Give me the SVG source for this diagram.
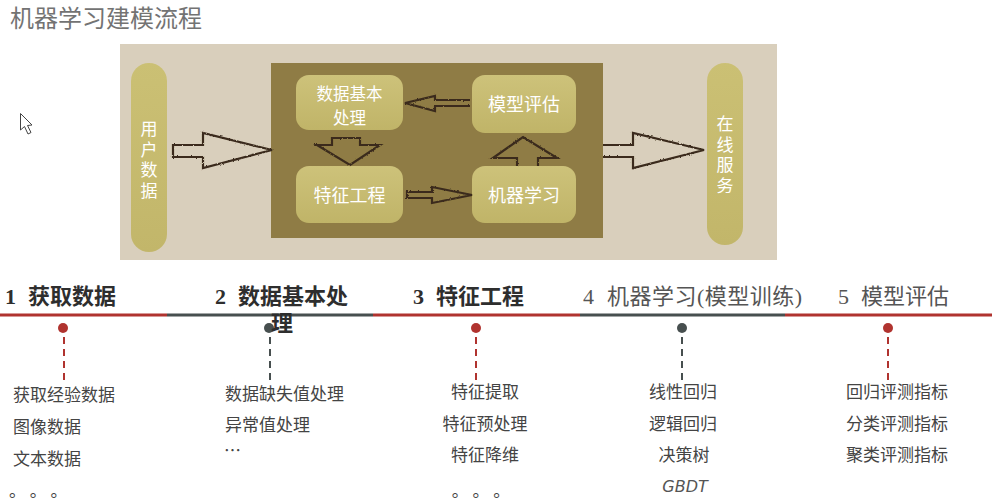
<svg xmlns="http://www.w3.org/2000/svg" width="1002" height="503" viewBox="0 0 1002 503">
<defs>
<filter id="rough" x="-10%" y="-10%" width="120%" height="120%">
<feTurbulence type="fractalNoise" baseFrequency="0.6" numOctaves="1" seed="3" result="n"/>
<feDisplacementMap in="SourceGraphic" in2="n" scale="2.5" xChannelSelector="R" yChannelSelector="G"/>
</filter>
<linearGradient id="boxg" x1="0" y1="0" x2="0" y2="1">
<stop offset="0" stop-color="#cdc27a"/>
<stop offset="1" stop-color="#c0b468"/>
</linearGradient>
<linearGradient id="pillg" x1="0" y1="0" x2="0" y2="1">
<stop offset="0" stop-color="#cbc074"/>
<stop offset="1" stop-color="#c2b66a"/>
</linearGradient>
</defs>
<style>
.title{font-family:"Noto Sans CJK SC",sans-serif;font-size:24px;fill:#737373}
.ntext{font-family:"Noto Sans CJK SC",sans-serif;font-size:18px;fill:#ffffff;text-anchor:middle}
.vtext{font-family:"Noto Sans CJK SC",sans-serif;font-size:17px;fill:#ffffff;writing-mode:vertical-rl;text-orientation:upright;letter-spacing:3.6px}
.box{fill:url(#boxg)}
.pill{fill:url(#pillg)}
.arrow{fill:none;stroke:#3a2b1c;stroke-width:2.2;stroke-linejoin:miter}
.hb{font-family:"Liberation Serif","Noto Sans CJK SC",serif;font-size:22px;font-weight:bold;fill:#2e2e2e}
.hn{font-family:"Liberation Serif","Noto Sans CJK SC",serif;font-size:22px;fill:#555555}
.item{font-family:"Noto Sans CJK SC",sans-serif;font-size:17px;fill:#444444}
.itemc{font-family:"Noto Sans CJK SC",sans-serif;font-size:17px;fill:#444444;text-anchor:middle}
.red{fill:#b0332f}
.gray{fill:#474f4f}
.dr{stroke:#b0332f;stroke-width:2;stroke-dasharray:7,5}
.dg{stroke:#474f4f;stroke-width:2;stroke-dasharray:7,5}
</style>
<rect width="1002" height="503" fill="#ffffff"/>
<text class="title" x="10" y="27">机器学习建模流程</text>
<path d="M20.5,113.5 L20.5,130 L24.5,126.5 L28,134 L31,132.5 L27.5,125.5 L32,125 Z" fill="#ffffff" stroke="#444" stroke-width="1"/>
<g id="panel">
<rect x="120" y="44" width="657" height="216" fill="#d9cfbc"/>
<rect x="271" y="63" width="332" height="175" fill="#8f7c45"/>
</g>
<g id="user-data">
<rect class="pill" x="131" y="63" width="36" height="189" rx="18"/>
<text class="vtext" x="149" y="120">用户数据</text>
</g>
<g id="online-service">
<rect class="pill" x="707" y="63" width="36" height="182" rx="18"/>
<text class="vtext" x="725" y="115">在线服务</text>
</g>
<g id="data-process">
<rect class="box" x="296" y="75" width="107" height="55" rx="13"/>
<text class="ntext" font-size="16.5" style="font-size:16.5px"><tspan x="349.5" y="99.5">数据基本</tspan><tspan x="349.5" y="123.5">处理</tspan></text>
</g>
<g id="model-eval">
<rect class="box" x="472" y="75" width="104" height="58" rx="13"/>
<text class="ntext" x="524" y="111">模型评估</text>
</g>
<g id="feature-eng">
<rect class="box" x="296" y="166" width="107" height="57" rx="13"/>
<text class="ntext" x="349.5" y="202">特征工程</text>
</g>
<g id="ml">
<rect class="box" x="472" y="166" width="104" height="57" rx="13"/>
<text class="ntext" x="524" y="202">机器学习</text>
</g>
<g id="connectors" filter="url(#rough)">
<path class="arrow" d="M173,145 L203,145 L203,133 L272,150 L203,168 L203,157 L173,157 Z"/>
<path class="arrow" d="M603,145 L633,145 L633,133 L704,150 L633,168 L633,157 L603,157"/>
<path class="arrow" d="M470,100 L435,100 L435,96 L405,103 L435,111 L435,106 L470,106"/>
<path class="arrow" d="M332,138 L332,145 L317,145 L350,165 L380,145 L360,145 L360,138 Z"/>
<path class="arrow" d="M517,166 L517,158 L493,158 L523,137 L557,158 L538,158 L538,166"/>
<path class="arrow" d="M407,192 L432,192 L432,187 L472,195 L432,203 L432,198 L407,198 Z"/>
</g>
<g id="timeline">
<rect class="red" x="0" y="313.5" width="167" height="3"/>
<rect class="gray" x="167" y="313.5" width="206" height="3"/>
<rect class="red" x="373" y="313.5" width="207" height="3"/>
<rect class="gray" x="580" y="313.5" width="205" height="3"/>
<rect class="red" x="785" y="313.5" width="207" height="3"/>
</g>
<g id="step1">
<text class="hb" y="304"><tspan x="5">1</tspan><tspan x="28">获取数据</tspan></text>
<circle class="red" cx="63" cy="328" r="5"/>
<line class="dr" x1="64" y1="337" x2="64" y2="384"/>
<text class="item" x="13" y="401">获取经验数据</text>
<text class="item" x="13" y="433">图像数据</text>
<text class="item" x="13" y="465">文本数据</text>
<text class="item" x="9" y="497" font-size="13">。 。 。</text>
</g>
<g id="step2">
<circle class="gray" cx="269" cy="328" r="5"/>
<text class="hb"><tspan x="215" y="304">2</tspan><tspan x="238" y="304">数据基本处</tspan><tspan x="271" y="331">理</tspan></text>
<line class="dg" x1="270" y1="337" x2="270" y2="384"/>
<text class="item" x="225" y="400">数据缺失值处理</text>
<text class="item" x="225" y="431">异常值处理</text>
<text class="item" x="224" y="457">…</text>
</g>
<g id="step3">
<text class="hb" y="304"><tspan x="413">3</tspan><tspan x="436">特征工程</tspan></text>
<circle class="red" cx="476" cy="328" r="5"/>
<line class="dr" x1="476" y1="337" x2="476" y2="382"/>
<text class="itemc" x="485" y="398">特征提取</text>
<text class="itemc" x="485" y="430">特征预处理</text>
<text class="itemc" x="485" y="461">特征降维</text>
<text class="itemc" x="481" y="497" font-size="13">。 。 。</text>
</g>
<g id="step4">
<text class="hn" y="304"><tspan x="583">4</tspan><tspan x="607" textLength="195" lengthAdjust="spacing">机器学习(模型训练)</tspan></text>
<circle class="gray" cx="682" cy="328" r="5"/>
<line class="dg" x1="682" y1="337" x2="682" y2="382"/>
<text class="itemc" x="683" y="398">线性回归</text>
<text class="itemc" x="683" y="430">逻辑回归</text>
<text class="itemc" x="684" y="461">决策树</text>
<text x="685" y="492" text-anchor="middle" font-family="DejaVu Sans, sans-serif" font-style="italic" font-size="16" fill="#555555">GBDT</text>
</g>
<g id="step5">
<text class="hn" y="304"><tspan x="838">5</tspan><tspan x="861">模型评估</tspan></text>
<circle class="red" cx="888" cy="328" r="5"/>
<line class="dr" x1="888" y1="337" x2="888" y2="382"/>
<text class="itemc" x="897" y="398">回归评测指标</text>
<text class="itemc" x="897" y="430">分类评测指标</text>
<text class="itemc" x="897" y="461">聚类评测指标</text>
</g>
</svg>
